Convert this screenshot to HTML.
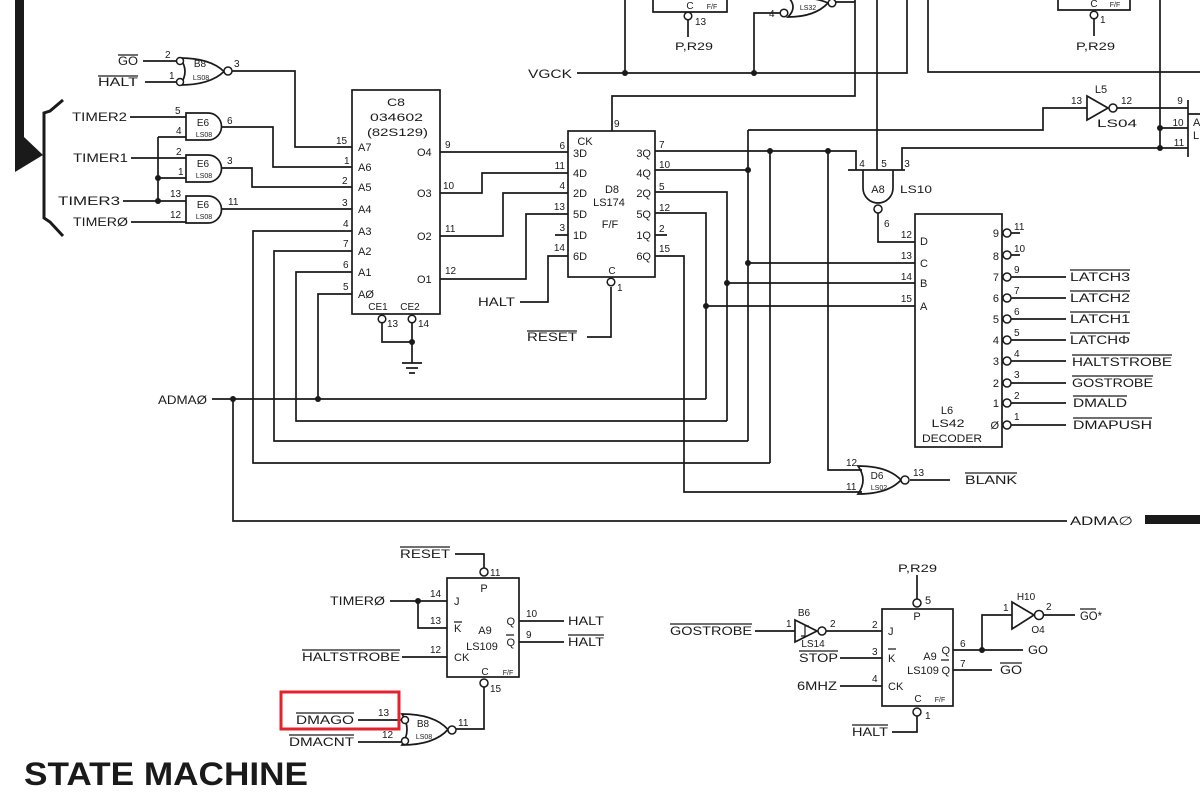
<!DOCTYPE html>
<html><head><meta charset="utf-8"><style>
html,body{margin:0;padding:0;background:#fff;}
svg{display:block;}
text{font-family:"Liberation Sans",sans-serif;fill:#1a1a1a;}
.l{font-size:12px;}
.p{font-size:10px;}
.m{font-size:11px;}
.s{font-size:7px;}
.c{text-anchor:middle;}
.e{text-anchor:end;}
.w{fill:none;stroke:#1a1a1a;stroke-width:1.7;}
.o{fill:none;stroke:#1a1a1a;stroke-width:1.2;}
.b{fill:#fff;stroke:#1a1a1a;stroke-width:1.5;}
.d{fill:#1a1a1a;}
</style></head><body>
<svg width="1200" height="800" viewBox="0 0 1200 800" xmlns="http://www.w3.org/2000/svg">
<!-- bus bar and bracket -->
<polygon class="d" points="15,0 24,0 24,137 43,155 15,172"/>
<path d="M63,100 L50,111 L44,113 V218 L50,222 L63,236" fill="none" stroke="#1a1a1a" stroke-width="3"/>

<!-- wires -->
<path class="w" d="
M143,61 H176 M145,82 H176
M232,71 H295 V147 H352
M130,117 H186 M158,137 H186 M158,137 V201
M131,158 H186 M158,178 H186
M123,201 H186 M131,222 H186
M222,127 H273 V167 H352
M222,168 H252 V187 H352
M222,209 H352
M352,231 H253 V463 H770
M352,251 H274 V441 H748
M352,272 H296 V421 H727
M352,294 H318 V399
M212,399 H706
M233,399 V521 H1067
M440,152 H568
M440,193 H482 V173 H568
M440,236 H503 V193 H568
M440,279 H526 V214 H568
M555,235 H568
M568,256 H548 V302 H520
M587,337 H611 V287
M612,131 V96 H855 V0
M836,2 H855
M655,151 H856 V170
M655,170 H748
M748,130 V441
M748,263 H915
M655,192 H727 V421
M727,283 H915
M655,235 H667
M655,256 H684 V492 H862
M770,151 V463
M828,151 V470 H862
M655,213 H706 V399
M706,306 H915
M748,130 H1043 V108 H1087
M902,170 V148 H1188
M1160,0 V148 M1160,128 H1188
M1117,108 H1188
M1188,100 V157 M1188,114 H1200
M848,170 H905
M878,213 V242 H915
M910,480 H950
M877,0 V170
M577,73 H907 V0
M625,0 V73
M754,73 V13 H780
M928,0 V72 H1200
M653,0 V12 H727 V0
M688,20 V37
M1058,0 V10 H1130 V0
M1094,19 V36
M382,323 V342 H412 M412,323 V363
M402,363 H422 M406,368 H418 M409,373 H415
M455,554 H484 V568
M390,601 H447 M418,601 V628 H447
M402,657 H447
M519,621 H564 M519,642 H564
M484,687 V729 H456
M358,720 H401 M358,742 H401
M917,575 V599
M755,631 H795 M826,631 H882
M840,658 H882 M840,686 H882
M953,650 H1023 M982,650 V615 H1012 M1044,615 H1075
M953,670 H992
M917,716 V732 H892
"/>

<!-- boxes -->
<rect class="w" x="352" y="90" width="88" height="224"/>
<rect class="w" x="568" y="131" width="87" height="146"/>
<rect class="w" x="915" y="214" width="87" height="233"/>
<rect class="w" x="447" y="578" width="72" height="99"/>
<rect class="w" x="882" y="609" width="71" height="97"/>

<!-- gates -->
<path class="w" d="M180,58 Q190,71.5 180,85 Q210,85 224,71.5 Q210,58 180,58 Z"/>
<path class="w" d="M186,113 H208 A13.5,13.5 0 0 1 208,140 H186 Z"/>
<path class="w" d="M186,155 H208 A13.5,13.5 0 0 1 208,182 H186 Z"/>
<path class="w" d="M186,196 H208 A13.5,13.5 0 0 1 208,223 H186 Z"/>
<path class="w" d="M863,170 V188 A15,15 0 0 0 893,188 V170"/>
<path class="w" d="M858,466 Q868,480 858,494 Q888,494 901,480 Q888,466 858,466 Z"/>
<path class="w" d="M1087,96 L1087,120 L1108,108 Z"/>
<path class="w" d="M788,-3 Q798,7 788,17 Q815,17 828,3 Q815,-3 788,-3 Z"/>
<path class="w" d="M402,714 Q412,729.5 402,745 Q434,745 448,729.5 Q434,714 402,714 Z"/>
<path class="w" d="M795,620 L795,642 L817,631 Z"/>
<path class="o" d="M801,636 H805 V626 H809"/>
<path class="w" d="M1012,602 L1012,629 L1034,615 Z"/>

<!-- bubbles -->
<circle class="b" cx="180" cy="61" r="3.5"/>
<circle class="b" cx="180" cy="82" r="3.5"/>
<circle class="b" cx="228" cy="71" r="4"/>
<circle class="b" cx="382" cy="319" r="3.8"/>
<circle class="b" cx="412" cy="319" r="3.8"/>
<circle class="b" cx="611" cy="282" r="3.8"/>
<circle class="b" cx="688" cy="16" r="3.8"/>
<circle class="b" cx="1094" cy="15" r="3.8"/>
<circle class="b" cx="784" cy="13" r="3.8"/>
<circle class="b" cx="832" cy="3" r="3.8"/>
<circle class="b" cx="1113" cy="108" r="4"/>
<circle class="b" cx="878" cy="209" r="4"/>
<circle class="b" cx="905" cy="480" r="4"/>
<circle class="b" cx="1007" cy="233" r="4"/>
<circle class="b" cx="1007" cy="255" r="4"/>
<circle class="b" cx="1007" cy="277" r="4"/>
<circle class="b" cx="1007" cy="298" r="4"/>
<circle class="b" cx="1007" cy="319" r="4"/>
<circle class="b" cx="1007" cy="340" r="4"/>
<circle class="b" cx="1007" cy="361" r="4"/>
<circle class="b" cx="1007" cy="383" r="4"/>
<circle class="b" cx="1007" cy="403" r="4"/>
<circle class="b" cx="1007" cy="425" r="4"/>
<circle class="b" cx="484" cy="572" r="4"/>
<circle class="b" cx="484" cy="683" r="4"/>
<circle class="b" cx="405" cy="720" r="3.5"/>
<circle class="b" cx="405" cy="741" r="3.5"/>
<circle class="b" cx="452" cy="730" r="4"/>
<circle class="b" cx="917" cy="603" r="4"/>
<circle class="b" cx="917" cy="712" r="4"/>
<circle class="b" cx="822" cy="631" r="4"/>
<circle class="b" cx="1039" cy="615" r="4.5"/>

<!-- decoder output lines -->
<path class="w" d="M1011,233 H1020 M1011,255 H1020 M1011,277 H1066 M1011,298 H1066 M1011,319 H1066 M1011,340 H1066 M1011,361 H1066 M1011,383 H1066 M1011,403 H1066 M1011,425 H1066"/>

<!-- dots -->
<g class="d">
<circle cx="158" cy="178" r="3"/><circle cx="158" cy="201" r="3"/>
<circle cx="233" cy="399" r="3"/><circle cx="318" cy="399" r="3"/>
<circle cx="412" cy="342" r="3"/><circle cx="625" cy="73" r="3"/>
<circle cx="754" cy="73" r="3"/><circle cx="748" cy="170" r="3"/>
<circle cx="748" cy="263" r="3"/><circle cx="727" cy="283" r="3"/>
<circle cx="706" cy="306" r="3"/><circle cx="770" cy="151" r="3"/>
<circle cx="828" cy="151" r="3"/><circle cx="1160" cy="128" r="3"/>
<circle cx="1160" cy="148" r="3"/><circle cx="418" cy="601" r="3"/>
<circle cx="982" cy="650" r="3"/>
</g>

<!-- red highlight -->
<rect x="281" y="692" width="118" height="37" fill="none" stroke="#e3222b" stroke-width="3"/>
<rect x="1145" y="515" width="55" height="9" fill="#1a1a1a"/>

<!-- overlines -->
<path class="o" d="M118,55 H138 M98,76 H138 M527,331 H577
M1070,270 H1130 M1070,291 H1130 M1070,312 H1130 M1070,333 H1130 M1072,355 H1172 M1072,376 H1153 M1073,396 H1127 M1073,418 H1152
M965,473 H1017 M400,547 H450 M302,650 H400 M296,713 H354 M289,735 H354 M568,635 H604 M454,622 H462 M506,635 H514
M670,624 H752 M799,651 H838 M888,649 H896 M941,660 H949 M1000,663 H1022 M852,725 H888 M1080,609 H1096"/>

<!-- top-left labels -->
<text class="l" x="118" y="65" textLength="20" lengthAdjust="spacingAndGlyphs">GO</text>
<text class="l" x="98" y="86" textLength="40" lengthAdjust="spacingAndGlyphs">HALT</text>
<text class="l" x="72" y="121" textLength="55" lengthAdjust="spacingAndGlyphs">TIMER2</text>
<text class="l" x="73" y="162" textLength="55" lengthAdjust="spacingAndGlyphs">TIMER1</text>
<text class="l" x="58" y="205" textLength="62" lengthAdjust="spacingAndGlyphs">TIMER3</text>
<text class="l" x="73" y="226" textLength="55" lengthAdjust="spacingAndGlyphs">TIMERØ</text>
<text class="p" x="165" y="58">2</text><text class="p" x="169" y="79">1</text><text class="p" x="234" y="67">3</text>
<text class="p" x="175" y="114">5</text><text class="p" x="176" y="134">4</text>
<text class="p" x="176" y="155">2</text><text class="p" x="178" y="175">1</text>
<text class="p" x="170" y="197">13</text><text class="p" x="170" y="218">12</text>
<text class="p" x="227" y="124">6</text><text class="p" x="227" y="164">3</text><text class="p" x="228" y="205">11</text>
<text class="p c" x="200" y="67">B8</text><text class="s c" x="201" y="80">LS08</text>
<text class="p c" x="203" y="126">E6</text><text class="s c" x="204" y="137">LS08</text>
<text class="p c" x="203" y="167">E6</text><text class="s c" x="204" y="178">LS08</text>
<text class="p c" x="203" y="208">E6</text><text class="s c" x="204" y="219">LS08</text>

<!-- C8 -->
<text class="m" x="387" y="106" textLength="18" lengthAdjust="spacingAndGlyphs">C8</text>
<text class="m" x="370" y="121" textLength="53" lengthAdjust="spacingAndGlyphs">034602</text>
<text class="m" x="367" y="136" textLength="61" lengthAdjust="spacingAndGlyphs">(82S129)</text>
<text class="m" x="358" y="151">A7</text><text class="m" x="358" y="171">A6</text>
<text class="m" x="358" y="191">A5</text><text class="m" x="358" y="213">A4</text>
<text class="m" x="358" y="235">A3</text><text class="m" x="358" y="255">A2</text>
<text class="m" x="358" y="276">A1</text><text class="m" x="358" y="298">AØ</text>
<text class="p" x="336" y="144">15</text><text class="p" x="344" y="164">1</text>
<text class="p" x="342" y="184">2</text><text class="p" x="342" y="206">3</text>
<text class="p" x="343" y="227">4</text><text class="p" x="343" y="247">7</text>
<text class="p" x="343" y="268">6</text><text class="p" x="343" y="290">5</text>
<text class="m" x="417" y="156">O4</text><text class="m" x="417" y="197">O3</text>
<text class="m" x="417" y="240">O2</text><text class="m" x="417" y="283">O1</text>
<text class="p" x="445" y="148">9</text><text class="p" x="443" y="189">10</text>
<text class="p" x="445" y="232">11</text><text class="p" x="445" y="274">12</text>
<text class="p c" x="378" y="310">CE1</text><text class="p c" x="410" y="310">CE2</text>
<text class="p" x="387" y="327">13</text><text class="p" x="418" y="327">14</text>

<!-- D8 -->
<text class="p" x="614" y="127">9</text>
<text class="m c" x="585" y="145">CK</text>
<text class="m" x="573" y="157">3D</text><text class="m" x="573" y="177">4D</text>
<text class="m" x="573" y="197">2D</text><text class="m" x="573" y="218">5D</text>
<text class="m" x="573" y="239">1D</text><text class="m" x="573" y="260">6D</text>
<text class="m e" x="651" y="157">3Q</text><text class="m e" x="651" y="177">4Q</text>
<text class="m e" x="651" y="197">2Q</text><text class="m e" x="651" y="218">5Q</text>
<text class="m e" x="651" y="239">1Q</text><text class="m e" x="651" y="260">6Q</text>
<text class="m c" x="612" y="193">D8</text><text class="m c" x="609" y="206">LS174</text>
<text class="m c" x="610" y="228">F/F</text><text class="p c" x="612" y="274">C</text>
<text class="p e" x="565" y="149">6</text><text class="p e" x="565" y="169">11</text>
<text class="p e" x="565" y="189">4</text><text class="p e" x="565" y="210">13</text>
<text class="p e" x="565" y="231">3</text><text class="p e" x="565" y="251">14</text>
<text class="p" x="659" y="148">7</text><text class="p" x="659" y="168">10</text>
<text class="p" x="659" y="190">5</text><text class="p" x="659" y="211">12</text>
<text class="p" x="659" y="232">2</text><text class="p" x="659" y="252">15</text>
<text class="p" x="617" y="291">1</text>
<text class="l" x="478" y="306" textLength="37" lengthAdjust="spacingAndGlyphs">HALT</text>
<text class="l" x="527" y="341" textLength="50" lengthAdjust="spacingAndGlyphs">RESET</text>
<text class="l" x="528" y="78" textLength="44" lengthAdjust="spacingAndGlyphs">VGCK</text>

<!-- top area -->
<text class="p c" x="690" y="9">C</text><text class="s c" x="712" y="9">F/F</text>
<text class="p" x="695" y="25">13</text>
<text class="m" x="675" y="50" textLength="38" lengthAdjust="spacingAndGlyphs">P,R29</text>
<text class="p" x="769" y="17">4</text><text class="s c" x="808" y="10">LS32</text>
<text class="p c" x="1094" y="7">C</text><text class="s c" x="1115" y="7">F/F</text>
<text class="p" x="1100" y="23">1</text>
<text class="m" x="1076" y="50" textLength="39" lengthAdjust="spacingAndGlyphs">P,R29</text>
<text class="p" x="1071" y="104">13</text><text class="m c" x="1101" y="93">L5</text>
<text class="p" x="1121" y="104">12</text>
<text class="m" x="1097" y="127" textLength="40" lengthAdjust="spacingAndGlyphs">LS04</text>
<text class="p c" x="1180" y="104">9</text><text class="p c" x="1178" y="126">10</text><text class="p c" x="1179" y="146">11</text>
<text class="m" x="1193" y="126">A</text><text class="m" x="1193" y="139">L</text>

<!-- A8 -->
<text class="p c" x="862" y="167">4</text><text class="p c" x="884" y="167">5</text><text class="p c" x="907" y="167">3</text>
<text class="m c" x="878" y="193">A8</text>
<text class="m" x="900" y="193" textLength="32" lengthAdjust="spacingAndGlyphs">LS10</text>
<text class="p" x="884" y="227">6</text>

<!-- decoder -->
<text class="m" x="920" y="245">D</text><text class="m" x="920" y="267">C</text>
<text class="m" x="920" y="287">B</text><text class="m" x="920" y="310">A</text>
<text class="p e" x="912" y="238">12</text><text class="p e" x="912" y="259">13</text>
<text class="p e" x="912" y="280">14</text><text class="p e" x="912" y="302">15</text>
<text class="m e" x="999" y="237">9</text><text class="m e" x="999" y="260">8</text>
<text class="m e" x="999" y="281">7</text><text class="m e" x="999" y="302">6</text>
<text class="m e" x="999" y="323">5</text><text class="m e" x="999" y="344">4</text>
<text class="m e" x="999" y="365">3</text><text class="m e" x="999" y="387">2</text>
<text class="m e" x="999" y="407">1</text><text class="m e" x="999" y="429">Ø</text>
<text class="p" x="1014" y="230">11</text><text class="p" x="1014" y="252">10</text>
<text class="p" x="1014" y="273">9</text><text class="p" x="1014" y="294">7</text>
<text class="p" x="1014" y="315">6</text><text class="p" x="1014" y="336">5</text>
<text class="p" x="1014" y="357">4</text><text class="p" x="1014" y="378">3</text>
<text class="p" x="1014" y="399">2</text><text class="p" x="1014" y="420">1</text>
<text class="l" x="1070" y="281" textLength="60" lengthAdjust="spacingAndGlyphs">LATCH3</text>
<text class="l" x="1070" y="302" textLength="60" lengthAdjust="spacingAndGlyphs">LATCH2</text>
<text class="l" x="1070" y="323" textLength="60" lengthAdjust="spacingAndGlyphs">LATCH1</text>
<text class="l" x="1070" y="344" textLength="60" lengthAdjust="spacingAndGlyphs">LATCHΦ</text>
<text class="l" x="1072" y="366" textLength="100" lengthAdjust="spacingAndGlyphs">HALTSTROBE</text>
<text class="l" x="1072" y="387" textLength="81" lengthAdjust="spacingAndGlyphs">GOSTROBE</text>
<text class="l" x="1073" y="407" textLength="54" lengthAdjust="spacingAndGlyphs">DMALD</text>
<text class="l" x="1073" y="429" textLength="79" lengthAdjust="spacingAndGlyphs">DMAPUSH</text>
<text class="m c" x="947" y="414">L6</text>
<text class="m c" x="948" y="427" textLength="33" lengthAdjust="spacingAndGlyphs">LS42</text>
<text class="m c" x="952" y="442" textLength="60" lengthAdjust="spacingAndGlyphs">DECODER</text>

<!-- D6 / BLANK / ADMA -->
<text class="p" x="846" y="466">12</text><text class="p" x="846" y="490">11</text>
<text class="p c" x="877" y="479">D6</text><text class="s c" x="879" y="490">LS02</text>
<text class="p" x="913" y="476">13</text>
<text class="l" x="965" y="484" textLength="52" lengthAdjust="spacingAndGlyphs">BLANK</text>
<text class="l" x="1070" y="525" textLength="63" lengthAdjust="spacingAndGlyphs">ADMA∅</text>
<text class="l" x="158" y="404" textLength="49" lengthAdjust="spacingAndGlyphs">ADMAØ</text>

<!-- bottom left A9 -->
<text class="l" x="400" y="558" textLength="50" lengthAdjust="spacingAndGlyphs">RESET</text>
<text class="p" x="490" y="576">11</text>
<text class="m c" x="484" y="592">P</text>
<text class="p" x="430" y="597">14</text><text class="m" x="454" y="605">J</text>
<text class="p" x="430" y="624">13</text><text class="m" x="454" y="632">K</text>
<text class="p" x="430" y="653">12</text><text class="m" x="454" y="661">CK</text>
<text class="l" x="330" y="605" textLength="55" lengthAdjust="spacingAndGlyphs">TIMERØ</text>
<text class="l" x="302" y="661" textLength="98" lengthAdjust="spacingAndGlyphs">HALTSTROBE</text>
<text class="m c" x="485" y="634">A9</text><text class="m c" x="482" y="650">LS109</text>
<text class="m e" x="515" y="625">Q</text><text class="m e" x="515" y="646">Q</text>
<text class="p" x="526" y="617">10</text><text class="p" x="526" y="638">9</text>
<text class="l" x="568" y="625" textLength="36" lengthAdjust="spacingAndGlyphs">HALT</text>
<text class="l" x="568" y="646" textLength="36" lengthAdjust="spacingAndGlyphs">HALT</text>
<text class="p c" x="485" y="675">C</text><text class="s c" x="508" y="675">F/F</text>
<text class="p" x="490" y="692">15</text>
<text class="p c" x="423" y="727">B8</text><text class="s c" x="424" y="739">LS08</text>
<text class="p" x="378" y="716">13</text><text class="p" x="382" y="738">12</text>
<text class="p" x="458" y="726">11</text>
<text class="l" x="296" y="724" textLength="58" lengthAdjust="spacingAndGlyphs">DMAGO</text>
<text class="l" x="289" y="746" textLength="65" lengthAdjust="spacingAndGlyphs">DMACNT</text>
<text x="24" y="785" textLength="284" lengthAdjust="spacingAndGlyphs" style="font-size:32px;font-weight:bold;">STATE MACHINE</text>

<!-- bottom right A9 -->
<text class="m" x="898" y="572" textLength="39" lengthAdjust="spacingAndGlyphs">P,R29</text>
<text class="m" x="925" y="604">5</text>
<text class="m c" x="917" y="620">P</text>
<text class="l" x="670" y="635" textLength="82" lengthAdjust="spacingAndGlyphs">GOSTROBE</text>
<text class="p" x="786" y="627">1</text><text class="p c" x="804" y="616">B6</text>
<text class="p" x="830" y="627">2</text><text class="p c" x="813" y="647">LS14</text>
<text class="l" x="799" y="662" textLength="39" lengthAdjust="spacingAndGlyphs">STOP</text>
<text class="l" x="797" y="690" textLength="40" lengthAdjust="spacingAndGlyphs">6MHZ</text>
<text class="p" x="872" y="628">2</text><text class="p" x="872" y="655">3</text><text class="p" x="872" y="682">4</text>
<text class="m" x="888" y="635">J</text><text class="m" x="888" y="662">K</text><text class="m" x="888" y="690">CK</text>
<text class="m c" x="930" y="660">A9</text><text class="m c" x="923" y="674">LS109</text>
<text class="m e" x="950" y="654">Q</text><text class="m e" x="950" y="674">Q</text>
<text class="p" x="960" y="647">6</text><text class="p" x="960" y="667">7</text>
<text class="l" x="1028" y="654" textLength="20" lengthAdjust="spacingAndGlyphs">GO</text>
<text class="l" x="1000" y="674" textLength="22" lengthAdjust="spacingAndGlyphs">GO</text>
<text class="p c" x="918" y="702">C</text><text class="s c" x="940" y="702">F/F</text>
<text class="p" x="925" y="719">1</text>
<text class="l" x="852" y="736" textLength="36" lengthAdjust="spacingAndGlyphs">HALT</text>
<text class="p c" x="1026" y="600">H10</text>
<text class="p" x="1003" y="611">1</text><text class="p" x="1046" y="610">2</text>
<text class="p c" x="1038" y="633">O4</text>
<text class="l" x="1080" y="620" textLength="22" lengthAdjust="spacingAndGlyphs">GO*</text>
</svg></body></html>
